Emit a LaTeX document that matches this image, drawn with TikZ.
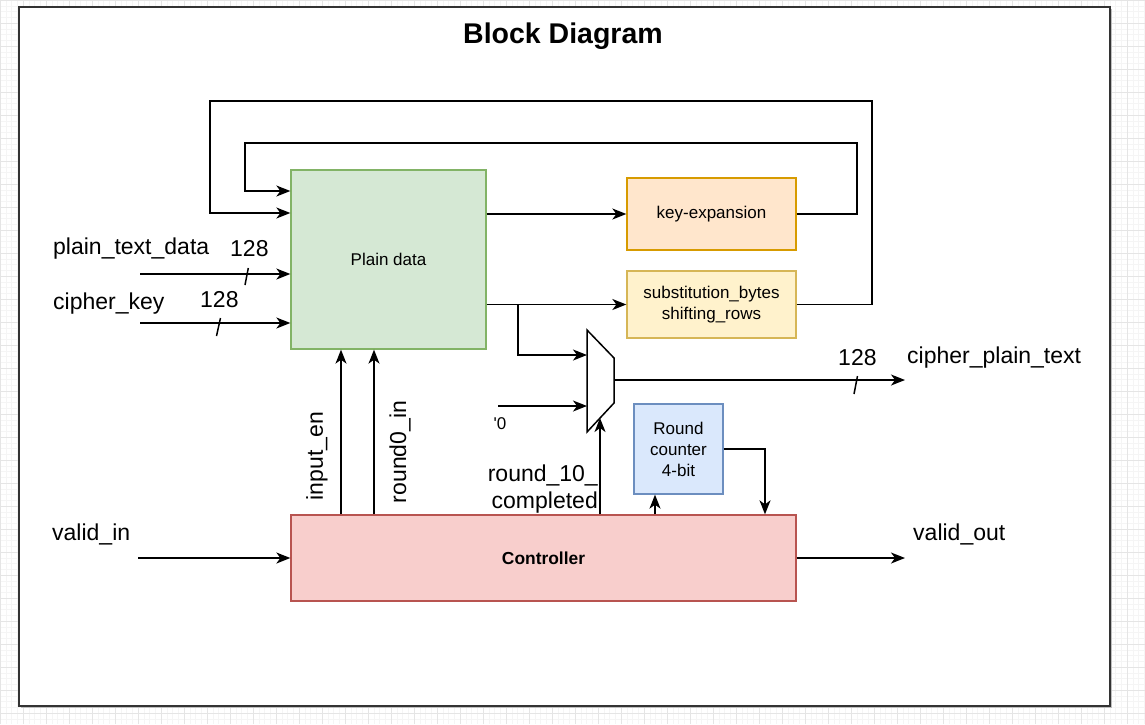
\documentclass[tikz,border=0pt]{standalone}
\usepackage{fontspec}
\setmainfont{Liberation Sans}
\newfontfamily\nolig{Liberation Sans}
\usetikzlibrary{arrows.meta}
\definecolor{gfill}{HTML}{D5E8D4}\definecolor{gline}{HTML}{82B366}
\definecolor{ofill}{HTML}{FFE6CC}\definecolor{oline}{HTML}{D79B00}
\definecolor{yfill}{HTML}{FFF2CC}\definecolor{yline}{HTML}{D6B656}
\definecolor{bfill}{HTML}{DAE8FC}\definecolor{bline}{HTML}{6C8EBF}
\definecolor{rfill}{HTML}{F8CECC}\definecolor{rline}{HTML}{B85450}
\definecolor{framec}{HTML}{333333}
\begin{document}
\begin{tikzpicture}[x=1pt,y=-1pt,
  wire/.style={line width=1.5pt, black},
  arr/.style={wire, -{Stealth[length=14pt,width=11pt,inset=4pt]}},
  blk/.style={draw, line width=1.3pt, inner sep=0pt, align=center, font=\fontsize{17}{21}\selectfont},
  big/.style={inner sep=0pt, font=\fontsize{23}{27}\selectfont},
  small/.style={inner sep=0pt, font=\fontsize{17}{21}\selectfont}]
\useasboundingbox (0,0) rectangle (1145,724);
% background grid
\fill[white] (0,0) rectangle (1145,724);
\draw[black!4, line width=0.4pt, step=5.75pt] (0,0) grid (1145,724);
\draw[black!10, line width=0.6pt, step=23pt] (0,0) grid (1145,724);
% frame
\fill[black!25] (21,9) rectangle (1112,708);
\draw[framec, line width=2pt, fill=white] (19,7) rectangle (1110,706);
% title
\node[inner sep=0pt, font=\fontsize{28.5}{34}\selectfont\bfseries] (title) at (563,36) {Block Diagram};
% blocks
\node[blk, fill=gfill, draw=gline, minimum width=195pt, minimum height=179pt] (pd) at (388.5,259.5) {Plain data};
\node[blk, fill=ofill, draw=oline, minimum width=169pt, minimum height=72pt] (ke) at (711.5,214) {key-expansion};
\node[blk, fill=yfill, draw=yline, minimum width=169pt, minimum height=67pt] (sb) at (711.5,304.5) {substitution\_bytes\\shifting\_rows};
\node[blk, fill=bfill, draw=bline, minimum width=89pt, minimum height=90pt] (rc) at (678.5,449) {Round\\counter\\4-bit};
\node[blk, fill=rfill, draw=rline, minimum width=505pt, minimum height=86pt, font=\fontsize{17.4}{21}\selectfont\bfseries] (ctl) at (543.5,558) {Controller};
% mux
\coordinate (m1) at (587,330);
\coordinate (m2) at (614,358);
\coordinate (m3) at (614,403);
\coordinate (m4) at (587,432);
\draw[wire, fill=white] (m1) -- (m2) -- (m3) -- (m4) -- cycle;
\coordinate (muxin1) at (587,355);
\coordinate (muxin2) at (587,406);
\coordinate (muxsel) at (600,418);
\coordinate (muxout) at (614,380);
% labels
\node[big, anchor=base west] (lpt) at (53,254) {plain\_text\_data};
\node[big, anchor=base west] (lck) at (53,309) {cipher\_key};
\node[big, anchor=base west] (lw1) at (230,256) {128};
\node[big, anchor=base west] (lw2) at (200,307) {128};
\node[big, anchor=base west] (lvi) at (52,540) {valid\_in};
\node[big, anchor=base west] (lvo) at (913,540) {valid\_out};
\node[big, anchor=base west] (lcpt) at (907,363) {cipher\_plain\_text};
\node[big, anchor=base west] (lw3) at (838,365) {128};
\node[big, rotate=90] (lie) at (317,456) {input\_en};
\node[big, rotate=90] (lr0) at (400,452) {round0\_in};
\node[big, align=right, anchor=east] (lrd) at (598,489.5) {round\_10\_\\completed};
\node[small, font=\fontsize{17}{21}\nolig] (lz) at (500,424) {'0};
% connector end coordinates
\coordinate (pti) at (140,274);
\coordinate (cki) at (140,323);
\coordinate (vi) at (138,558);
\coordinate (vo) at (905,558);
\coordinate (cpo) at (905,380);
\coordinate (zin) at (498,406);
\coordinate (br) at (518,304.5);
\coordinate (k1) at (857,143);
\coordinate (k2) at (245,143);
\coordinate (o1) at (872,101);
\coordinate (o2) at (210,101);
\coordinate (ie) at (341,0);
\coordinate (r0) at (374,0);
\coordinate (sel) at (600,0);
\coordinate (rcu) at (655,0);
\coordinate (rcd) at (765,0);
% connectors
\draw[arr] (pti) -- (pd.west |- pti);
\draw[arr] (cki) -- (pd.west |- cki);
\draw[arr] (vi) -- (ctl.west |- vi);
\draw[arr] (ctl.east) -- (vo);
\draw[arr] (pd.east |- ke.west) -- (ke.west);
\draw[arr] (pd.east |- sb.west) -- (sb.west);
\draw[arr] (br) |- (muxin1);
\draw[arr] (zin) -- (muxin2);
\draw[arr] (muxout) -- (cpo);
\draw[arr] (ke.east) -| (k1) -- (k2) |- ([yshift=68.5pt]pd.west);
\draw[arr] (sb.east) -| (o1) -- (o2) |- ([yshift=46.5pt]pd.west);
\draw[arr] (ctl.north -| ie) -- (pd.south -| ie);
\draw[arr] (ctl.north -| r0) -- (pd.south -| r0);
\draw[arr] (ctl.north -| sel) -- (muxsel);
\draw[arr] (ctl.north -| rcu) -- (rc.south -| rcu);
\draw[arr] (rc.east) -| (ctl.north -| rcd);
% bus width slashes
\draw[wire] (248.3,268) -- (245,285);
\draw[wire] (220.5,318) -- (216.5,336);
\draw[wire] (857.5,376) -- (854,394);
\end{tikzpicture}
\end{document}
